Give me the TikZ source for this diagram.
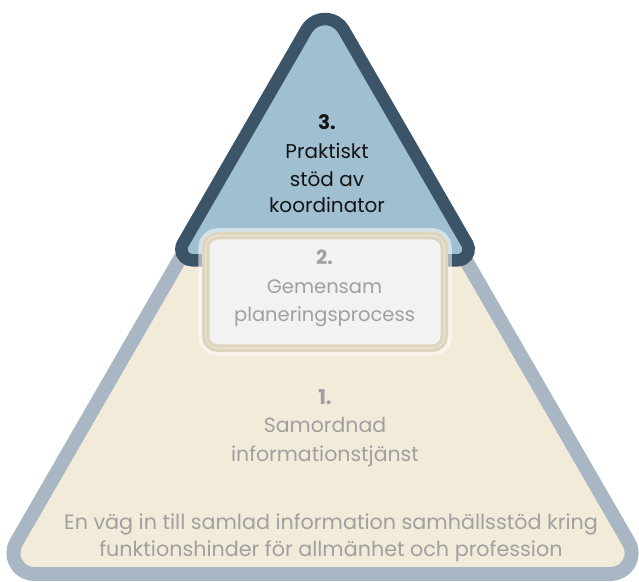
\documentclass[tikz,border=0pt]{standalone}
\usepackage{fontspec}
\setmainfont{Poppins}
\definecolor{bigfill}{RGB}{243,235,218}
\definecolor{bigline}{RGB}{169,182,195}
\definecolor{smallfill}{RGB}{160,191,209}
\definecolor{smallline}{RGB}{60,84,103}
\definecolor{boxfill}{RGB}{242,242,242}
\definecolor{boxline}{RGB}{221,213,190}
\definecolor{boxinner}{RGB}{233,227,210}
\definecolor{txtgrey}{RGB}{160,160,160}
\definecolor{txtdark}{RGB}{20,20,20}
\begin{document}
\begin{tikzpicture}[x=1pt,y=1pt,
  lbl/.style={anchor=base,inner sep=0pt},
  greytxt/.style={lbl,text=txtgrey},
  darktxt/.style={lbl,text=txtdark},
  fs/.style={font=\fontsize{#1}{#1}\selectfont},
  fsb/.style={font=\bfseries\fontsize{#1}{#1}\selectfont}]
\useasboundingbox (0,0) rectangle (639,581);
\fill[white] (0,0) rectangle (639,581);
% big triangle
\draw[line width=14pt,draw=bigline,fill=bigfill]
  (322.5,7) -- (34.37,7) arc[start angle=270,end angle=150,radius=21]
  -- (304.3,537.5) arc[start angle=150,end angle=30,radius=21]
  -- (628.8,38.5) arc[start angle=30,end angle=-90,radius=21] -- cycle;
% small triangle
\draw[line width=12.5pt,draw=smallline,fill=smallfill]
  (325,320.7) -- (192.35,320.7) arc[start angle=270,end angle=150,radius=11]
  -- (306.4,551.25) arc[start angle=150,end angle=30,radius=21.5]
  -- (467.2,337.2) arc[start angle=30,end angle=-90,radius=11] -- cycle;
% middle box
\draw[line width=15pt,draw=white,draw opacity=0.55,rounded corners=12pt]
  (205.75,232.75) rectangle (444.25,345.25);
\draw[line width=7.5pt,draw=boxline,fill=boxfill,rounded corners=12pt]
  (205.75,232.75) rectangle (444.25,345.25);
\draw[line width=1.2pt,draw=boxinner,rounded corners=12pt]
  (205.75,232.75) rectangle (444.25,345.25);
% texts level 3
\node[darktxt,fsb=20] (t3a) at (327,451) {3.};
\node[darktxt,fs=20] (t3b) at (327,422) {Praktiskt};
\node[darktxt,fs=20] (t3c) at (327,394) {stöd av};
\node[darktxt,fs=20] (t3d) at (327,368) {koordinator};
% texts level 2
\node[greytxt,fsb=19.5] (t2a) at (324.5,316) {2.};
\node[greytxt,fs=19.5] (t2b) at (324.5,287) {Gemensam};
\node[greytxt,fs=19.5] (t2c) at (324.5,259.3) {planeringsprocess};
% texts level 1
\node[greytxt,fsb=20.5] (t1a) at (325,176) {1.};
\node[greytxt,fs=20.5] (t1b) at (325,149) {Samordnad};
\node[greytxt,fs=20.5] (t1c) at (325,119.3) {informationstjänst};
% bottom text
\node[greytxt,fs=20.7] (b1) at (331,52) {En väg in till samlad information samhällsstöd kring};
\node[greytxt,fs=20.7] (b2) at (331,25) {funktionshinder för allmänhet och profession};
\end{tikzpicture}
\end{document}
